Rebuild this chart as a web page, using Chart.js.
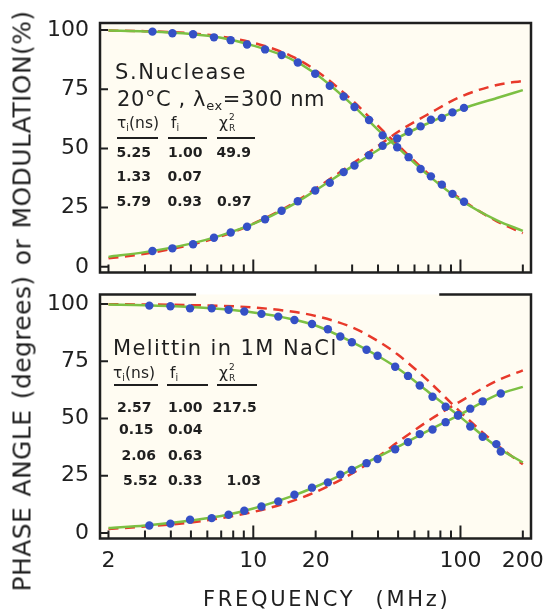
<!DOCTYPE html>
<html>
<head>
<meta charset="utf-8">
<script src="https://cdn.jsdelivr.net/npm/chart.js@4.4.1/dist/chart.umd.min.js"></script>
<style>
  body { margin: 0; background: #fff; overflow: hidden; }
  #wrap { position: relative; width: 546px; height: 609px; font-family: "DejaVu Sans", sans-serif; color: #1f1f1f; }
  canvas { position: absolute; left: 0; }
  .t { position: absolute; white-space: nowrap; }
  .sb { font-size: .62em; position: relative; top: .28em; }
  .rule { position: absolute; height: 0; border-top: 2px solid #1f1f1f; }
  #ytitle { left: 22px; top: 301px; font-size: 25px; line-height: 25px; letter-spacing: 0.4px; word-spacing: 2px;
            transform: translate(-50%, -50%) rotate(-90deg); }
  #xtitle { left: 203px; top: 589px; font-size: 21px; line-height: 21px; letter-spacing: 2.7px; word-spacing: 11px; }
</style>
</head>
<body>
<div id="wrap">
  <canvas id="topChart" width="546" height="285" style="top:0"></canvas>
  <canvas id="botChart" width="546" height="324" style="top:285px"></canvas>
  <div id="ytitle" class="t">PHASE ANGLE (degrees) or MODULATION(%)</div>
  <div id="xtitle" class="t">FREQUENCY (MHz)</div>
</div>
<script>
// measured points, S. Nuclease (top panel)
const freqTop  = [3.26, 4.07, 5.12, 6.46, 7.78, 9.33, 11.4, 13.7, 16.4, 19.9, 23.4, 27.3, 30.8, 36.2, 42.1, 49.5, 56.2, 64.2, 72.0, 81.3, 91.5, 104];
const modTop   = [99.3, 98.6, 98.2, 96.9, 95.7, 93.9, 91.8, 89.4, 86.3, 81.5, 76.4, 71.9, 67.5, 62.0, 55.5, 50.5, 46.3, 41.3, 38.2, 34.7, 30.8, 27.5];
const phaseTop = [6.7, 7.8, 9.5, 12.3, 14.5, 16.9, 20.1, 23.7, 27.7, 32.2, 35.5, 40.0, 42.8, 47.1, 51.1, 54.2, 57.0, 59.3, 62.1, 62.9, 65.2, 67.1];

// measured points, Melittin (bottom panel)
const freqBot  = [3.15, 3.98, 4.95, 6.3, 7.6, 9.05, 10.95, 13.2, 15.8, 19.2, 22.9, 26.3, 29.9, 35.2, 39.8, 48.4, 55.8, 63.6, 73.3, 84.8, 97.4, 111.5, 128, 149, 156.5];
const modBot   = [99.3, 99.0, 98.1, 98.1, 97.5, 96.7, 95.7, 94.5, 93.0, 91.3, 89.0, 85.8, 83.3, 80.0, 77.4, 72.6, 68.6, 64.4, 59.5, 55.1, 51.3, 46.5, 42.0, 38.8, 35.6];
const phaseBot = [3.3, 4.1, 5.8, 6.5, 8.0, 9.7, 11.6, 13.8, 16.7, 19.8, 22.1, 25.5, 27.5, 30.5, 32.3, 36.6, 39.7, 43.2, 45.2, 48.4, 51.4, 54.3, 57.5, null, 60.9];

// fitted curves (green = best fit, red dashed = single exponential)
const freqFit       = [2, 3, 5, 7, 10, 15, 20, 30, 40, 50, 70, 100, 150, 200];
const greenModTop   = [99.8, 99.4, 98.3, 96.7, 93.4, 88.0, 81.5, 68.5, 57.8, 50.2, 38.6, 28.2, 19.6, 15.2];
const greenPhaseTop = [4.2, 6.2, 9.8, 13.3, 18.1, 25.5, 32.3, 42.4, 49.3, 54.5, 60.7, 66.5, 71.3, 74.6];
const redModTop     = [99.8, 99.5, 98.6, 97.2, 94.6, 89.3, 83.0, 70.3, 59.5, 51.3, 39.3, 28.7, 19.2, 14.2];
const redPhaseTop   = [3.6, 5.5, 9.3, 12.9, 18.2, 26.0, 33.0, 43.5, 51.0, 57.0, 64.5, 71.8, 76.8, 78.5];
const greenModBot   = [99.8, 99.5, 98.7, 97.8, 96.3, 93.6, 90.6, 83.4, 77.3, 71.8, 61.6, 50.6, 37.6, 30.8];
const greenPhaseBot = [2.2, 3.3, 5.5, 7.4, 10.7, 15.8, 20.2, 27.7, 33.2, 37.7, 44.7, 51.8, 60.3, 63.8];
const redModBot     = [99.9, 99.8, 99.5, 99.2, 98.5, 96.8, 94.8, 89.8, 83.8, 77.8, 66.4, 52.8, 38.5, 30.0];
const redPhaseBot   = [1.8, 2.8, 4.6, 6.5, 9.2, 13.6, 17.9, 26.0, 33.3, 39.8, 49.0, 57.5, 66.5, 71.0];

// axes
const xTickVals   = [2, 3, 4, 5, 6, 7, 8, 9, 10, 20, 30, 40, 50, 60, 70, 80, 90, 100, 200];
const xTickLabels = [2, 10, 20, 100, 200];
const yTickVals   = [0, 25, 50, 75, 100];

// fit tables
const tauTop = ['5.25', '1.33', '5.79'];
const fTop   = ['1.00', '0.07', '0.93'];
const chiTop = ['49.9', '', '0.97'];
const tauBot = ['2.57', '0.15', '2.06', '5.52'];
const fBot   = ['1.00', '0.04', '0.63', '0.33'];
const chiBot = ['217.5', '', '', '1.03'];

const INK = '#1f1f1f';
const PANEL_BG = '#fffcf2';
const BLUE = '#3550c6';
const GREEN = '#7cc043';
const RED = '#e8392b';

Chart.defaults.font.family = '"DejaVu Sans", sans-serif';
Chart.defaults.color = INK;

const framePlugin = {
  id: 'frame',
  beforeDraw(chart) {
    const { ctx, chartArea: a } = chart;
    ctx.save();
    ctx.fillStyle = PANEL_BG;
    ctx.fillRect(a.left, a.top, a.right - a.left, a.bottom - a.top);
    ctx.restore();
  },
  afterDraw(chart, args, o) {
    const { ctx, chartArea: a, scales: { x, y } } = chart;
    ctx.save();
    ctx.strokeStyle = INK;
    ctx.lineWidth = 2.5;
    ctx.lineCap = 'square';
    ctx.beginPath();
    ctx.moveTo(a.left, a.top);
    ctx.lineTo(a.left, a.bottom);
    ctx.lineTo(a.right, a.bottom);
    ctx.lineTo(a.right, a.top);
    if (o.gap) {
      const w = a.right - a.left;
      ctx.lineTo(a.left + w * o.gap[1], a.top);
      ctx.moveTo(a.left + w * o.gap[0], a.top);
      ctx.lineTo(a.left, a.top);
    } else {
      ctx.lineTo(a.left, a.top);
    }
    ctx.stroke();

    ctx.lineWidth = 2;
    ctx.lineCap = 'butt';
    ctx.beginPath();
    xTickVals.forEach(v => {
      const px = x.getPixelForValue(v);
      const len = (v === 10 || v === 100) ? 13 : 8;
      ctx.moveTo(px, a.bottom);
      ctx.lineTo(px, a.bottom - len);
    });
    yTickVals.forEach(v => {
      const py = y.getPixelForValue(v);
      ctx.moveTo(a.left, py);
      ctx.lineTo(a.left + 8, py);
    });
    ctx.stroke();
    ctx.restore();
  }
};

function pts(xs, ys) {
  return xs.map((x, i) => ({ x: x, y: ys[i] })).filter(p => p.y != null);
}

function dots(data) {
  return { data: data, showLine: false, pointRadius: 4.2, pointHoverRadius: 4.2,
           pointBackgroundColor: BLUE, pointBorderWidth: 0 };
}
function curve(data, color, dash) {
  return { data: data, showLine: true, pointRadius: 0, borderColor: color, borderWidth: 2.5,
           borderDash: dash || [], cubicInterpolationMode: 'monotone' };
}

function buildPanel(id, p) {
  return new Chart(document.getElementById(id), {
    type: 'scatter',
    data: {
      datasets: [
        dots(pts(p.freq, p.mod)),
        dots(pts(p.freq, p.phase)),
        curve(pts(freqFit, p.gMod), GREEN),
        curve(pts(freqFit, p.gPhase), GREEN),
        curve(pts(freqFit, p.rMod), RED, [10, 6.5]),
        curve(pts(freqFit, p.rPhase), RED, [10, 6.5])
      ]
    },
    options: {
      responsive: false,
      animation: false,
      layout: { padding: { top: p.padTop, right: 15, left: 0, bottom: 0 } },
      plugins: { legend: { display: false }, tooltip: { enabled: false }, frame: { gap: p.gap } },
      scales: {
        x: {
          type: 'logarithmic', min: 1.82, max: 219,
          afterBuildTicks: s => { s.ticks = xTickVals.map(v => ({ value: v })); },
          afterFit: s => { s.height = p.xHeight; s.paddingLeft = 0; s.paddingRight = 0; },
          grid: { display: false, drawTicks: false }, border: { display: false },
          ticks: { display: p.showX, autoSkip: false, maxRotation: 0, padding: 10, color: INK,
                   font: { size: 22 },
                   callback: v => xTickLabels.includes(v) ? String(v) : '' }
        },
        y: {
          min: p.yMin, max: p.yMax,
          afterBuildTicks: s => { s.ticks = yTickVals.map(v => ({ value: v })); },
          afterFit: s => { s.width = 100; s.paddingTop = 0; s.paddingBottom = 0; },
          grid: { display: false, drawTicks: false }, border: { display: false },
          ticks: { padding: 11, color: INK, font: { size: 22 } }
        }
      }
    },
    plugins: [framePlugin]
  });
}

buildPanel('topChart', {
  freq: freqTop, mod: modTop, phase: phaseTop,
  gMod: greenModTop, gPhase: greenPhaseTop, rMod: redModTop, rPhase: redPhaseTop,
  padTop: 23, xHeight: 12.5, yMin: -2.4, yMax: 102.95, showX: false, gap: null
});
buildPanel('botChart', {
  freq: freqBot, mod: modBot, phase: phaseBot,
  gMod: greenModBot, gPhase: greenPhaseBot, rMod: redModBot, rPhase: redPhaseBot,
  padTop: 9.5, xHeight: 70.5, yMin: -2.4, yMax: 104.15, showX: true, gap: [0.22, 0.79]
});

// annotations
const wrap = document.getElementById('wrap');
function place(html, left, baseline, size, extra) {
  const d = document.createElement('div');
  d.className = 't';
  d.innerHTML = html;
  d.style.left = left + 'px';
  d.style.top = (baseline - 0.846 * size) + 'px';
  d.style.fontSize = size + 'px';
  d.style.lineHeight = size + 'px';
  Object.assign(d.style, extra || {});
  wrap.appendChild(d);
}
function rule(x1, x2, y) {
  const d = document.createElement('div');
  d.className = 'rule';
  d.style.left = x1 + 'px';
  d.style.width = (x2 - x1) + 'px';
  d.style.top = (y - 1) + 'px';
  wrap.appendChild(d);
}
const chiHead = 'χ<span style="position:relative;display:inline-block;width:9px">' +
  '<span style="position:absolute;left:1px;top:-15px;font-size:9px;line-height:9px">2</span>' +
  '<span style="position:absolute;left:1px;top:-4px;font-size:9px;line-height:9px">R</span></span>';
const tauHead = 'τ<span class="sb">i</span>(ns)';
const fHead = 'f<span class="sb">i</span>';
const num = { fontWeight: 'bold' };

function table(heads, hb, ruleY, rules, rows, tau, f, chi) {
  place(tauHead, heads[0], hb, 15.5);
  place(fHead, heads[1], hb, 15.5);
  place(chiHead, heads[2], hb, 15.5);
  rules.forEach(r => rule(r[0], r[1], ruleY));
  rows.forEach((r, i) => {
    place(tau[i], r[1], r[0], 14, num);
    place(f[i], r[2], r[0], 14, num);
    if (chi[i]) place(chi[i], r[3], r[0], 14, num);
  });
}

place('S.Nuclease', 115, 80, 21, { letterSpacing: '1.6px' });
place('20°C , λ<span class="sb">ex</span>=300 nm', 117, 107, 21, { letterSpacing: '0.6px' });
table([117, 171, 219], 129, 137.5, [[117, 158], [168, 207], [217, 255]],
      [[156.7, 116.5, 168, 216.5], [181, 116.5, 167.5, 0], [205.7, 116.5, 167.5, 217]],
      tauTop, fTop, chiTop);

place('Melittin in 1M NaCl', 113, 355.5, 21, { letterSpacing: '1.4px' });
table([113, 170, 219], 379, 385, [[114, 158], [167, 208], [217, 257]],
      [[411.7, 117, 168, 212.5], [434.3, 119, 168, 0], [460, 121.5, 168, 0], [485, 123, 168, 226.5]],
      tauBot, fBot, chiBot);
</script>
</body>
</html>
